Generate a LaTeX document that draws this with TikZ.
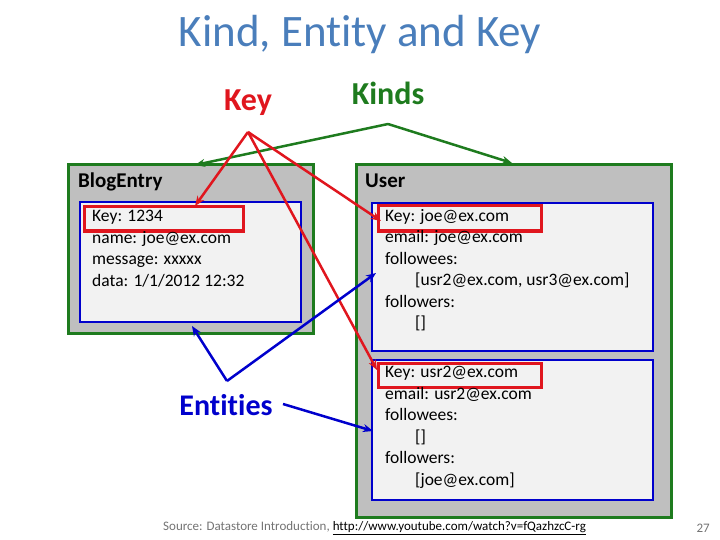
\documentclass[tikz,border=0pt]{standalone}
\usepackage{fontspec}
\setmainfont[Ligatures={NoCommon}]{Carlito}
\usetikzlibrary{arrows.meta}
\definecolor{ttl}{HTML}{4A7EBB}
\definecolor{gr}{HTML}{1E7B1E}
\definecolor{bl}{HTML}{0000CC}
\definecolor{rd}{HTML}{E0161E}
\begin{document}
\begin{tikzpicture}[x=1pt,y=-1pt,
 kindbox/.style={draw=gr,line width=3pt,fill=black!25},
 entbox/.style={draw=bl,line width=2.5pt,fill=black!5},
 keybox/.style={draw=rd,line width=3pt},
 txt/.style={anchor=north west,inner sep=0,align=left,font=\fontsize{17.5}{21.5}\selectfont},
 rarr/.style={draw=rd,line width=2.5pt,-{Stealth[length=10pt,width=8pt]}},
 garr/.style={draw=gr,line width=2.5pt,-{Stealth[length=10pt,width=8pt]}},
 barr/.style={draw=bl,line width=2.5pt,-{Stealth[length=10pt,width=8pt]}}]
\useasboundingbox (0,0) rectangle (720,540);
\node (title) [text=ttl,font=\fontsize{45}{45}\selectfont] at (360,35) {Kind, Entity and Key};
\node (key) [text=rd,font=\bfseries\fontsize{32}{32}\selectfont] at (248,103) {Key};
\node (kinds) [text=gr,font=\bfseries\fontsize{32}{32}\selectfont] at (388,93) {Kinds};
% boxes
\draw[kindbox] (68,165) rectangle (313,333);
\node[txt,font=\bfseries\fontsize{21}{21}\selectfont] (be) at (78,173) {BlogEntry};
\draw[entbox] (80,202) rectangle (301,322);
\draw[keybox] (84,207) rectangle (243,231);
\node[txt] (t1) at (92,210) {Key: 1234\\name: joe@ex.com\\message: xxxxx\\data: 1/1/2012 12:32};
\draw[kindbox] (356,165) rectangle (671,517);
\node[txt,font=\bfseries\fontsize{21}{21}\selectfont] (us) at (365,174) {User};
\draw[entbox] (372,203) rectangle (653,351);
\draw[keybox] (378,206) rectangle (541,231);
\node[txt] (t2) at (385,209) {Key: joe@ex.com\\email: joe@ex.com\\followees:\\\hspace*{30pt}[usr2@ex.com, usr3@ex.com]\\followers:\\\hspace*{30pt}[]};
\draw[entbox] (372,360) rectangle (653,500);
\draw[keybox] (378,363) rectangle (541,387);
\node[txt] (t3) at (385,366) {Key: usr2@ex.com\\email: usr2@ex.com\\followees:\\\hspace*{30pt}[]\\followers:\\\hspace*{30pt}[joe@ex.com]};
% kinds arrows
\coordinate (kv) at (388,124);
\coordinate (k1) at (195,165);
\coordinate (k2) at (512,163);
\draw[garr] (kv) -- (k1);
\draw[garr] (kv) -- (k2);
% key arrows
\coordinate (yv) at (248,132);
\coordinate (y1) at (195,206);
\coordinate (y2) at (381,221);
\coordinate (y3) at (377,370);
\draw[rarr] (yv) -- (y1);
\draw[rarr] (yv) -- (y2);
\draw[rarr] (yv) -- (y3);
% entities
\node (ent) [text=bl,font=\bfseries\fontsize{30}{30}\selectfont] at (226,405) {Entities};
\coordinate (ev) at (227,381);
\coordinate (e1) at (192,326);
\coordinate (e2) at (376,273);
\coordinate (e3s) at (283,404);
\coordinate (e3) at (373,431);
\draw[barr] (ev) -- (e1);
\draw[barr] (ev) -- (e2);
\draw[barr] (e3s) -- (e3);
\node (src) [anchor=west,inner sep=0,text=black!55,font=\fontsize{13}{13}\selectfont] at (163,528) {Source: Datastore Introduction, \textcolor{black}{\underline{http://www.youtube.com/watch?v=fQazhzcC-rg}}};
\node (pg) [anchor=east,inner sep=0,text=black!55,font=\fontsize{13}{13}\selectfont] at (710,528) {27};
\end{tikzpicture}
\end{document}
